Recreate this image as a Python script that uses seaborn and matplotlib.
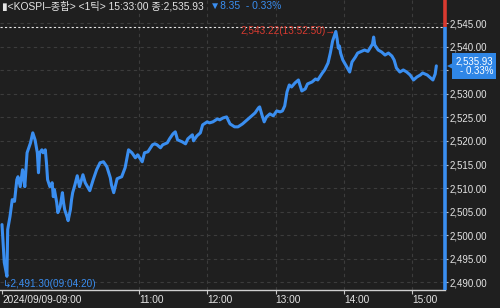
import numpy as np
import pandas as pd
import matplotlib
matplotlib.use("Agg")
import matplotlib.pyplot as plt
import matplotlib.transforms as mtransforms
import seaborn as sns

# ---------------- data ----------------
trade_date = "2024-09-09"
times = ["09:00", "09:02", "09:04:20", "09:05", "09:07", "09:09", "09:11", "09:13", "09:14", "09:16",
         "09:18", "09:19", "09:20", "09:22", "09:25", "09:27", "09:29", "09:31", "09:32", "09:33",
         "09:35", "09:36", "09:38", "09:39", "09:40", "09:42", "09:44", "09:45", "09:46", "09:48",
         "09:49", "09:51", "09:53", "09:54", "09:55", "09:57", "09:58", "10:00", "10:01", "10:02",
         "10:04", "10:06", "10:08", "10:11", "10:13", "10:17", "10:20", "10:23", "10:26", "10:29",
         "10:32", "10:35", "10:36", "10:38", "10:41", "10:45", "10:48", "10:51", "10:54", "10:57",
         "10:59", "11:03", "11:05", "11:08", "11:12", "11:14", "11:16", "11:19", "11:21", "11:25",
         "11:27", "11:30", "11:32", "11:34", "11:38", "11:41", "11:43", "11:47", "11:48", "11:51",
         "11:54", "11:56", "12:00", "12:02", "12:05", "12:09", "12:11", "12:14", "12:17", "12:20",
         "12:24", "12:27", "12:31", "12:33", "12:38", "12:42", "12:45", "12:46", "12:48", "12:50",
         "12:52", "12:55", "12:58", "13:01", "13:04", "13:06", "13:08", "13:10", "13:12", "13:14",
         "13:17", "13:20", "13:23", "13:26", "13:28", "13:32", "13:35", "13:37", "13:41", "13:43",
         "13:46", "13:48", "13:50", "13:52:50", "13:54", "13:55", "13:56", "13:57", "13:59", "14:03",
         "14:05", "14:07", "14:10", "14:12", "14:16", "14:18", "14:21", "14:25", "14:26", "14:27",
         "14:30", "14:33", "14:36", "14:39", "14:42", "14:44", "14:46", "14:49", "14:52", "14:55",
         "14:58", "15:01", "15:04", "15:07", "15:09", "15:13", "15:15", "15:18", "15:20", "15:21"]
values = [2502.27, 2494.23, 2491.30, 2501.21, 2503.96, 2507.56, 2507.20, 2511.79, 2512.42, 2510.31,
          2513.90, 2512.42, 2510.31, 2517.50, 2519.61, 2521.73, 2520.25, 2517.50, 2513.27, 2517.50,
          2518.13, 2517.50, 2518.13, 2515.38, 2511.79, 2510.31, 2511.15, 2508.19, 2509.67, 2506.92,
          2504.81, 2506.07, 2509.04, 2506.92, 2505.44, 2503.96, 2503.11, 2505.44, 2507.56, 2509.04,
          2510.73, 2512.63, 2510.31, 2512.84, 2511.15, 2509.46, 2511.79, 2513.90, 2515.38, 2515.59,
          2514.54, 2512.21, 2510.73, 2509.04, 2512.00, 2512.42, 2514.33, 2518.13, 2517.50, 2516.44,
          2517.07, 2515.59, 2517.50, 2517.71, 2519.19, 2519.40, 2519.19, 2518.56, 2519.19, 2519.61,
          2520.46, 2521.52, 2521.94, 2520.25, 2519.83, 2519.40, 2520.46, 2521.31, 2520.04, 2521.09,
          2521.73, 2523.42, 2524.06, 2523.84, 2524.06, 2524.69, 2524.48, 2524.90, 2525.11, 2523.63,
          2523.00, 2523.00, 2523.63, 2524.06, 2525.11, 2525.96, 2527.02, 2527.23, 2525.54, 2524.06,
          2525.11, 2525.75, 2525.33, 2526.38, 2526.17, 2526.38, 2527.44, 2530.40, 2531.88, 2531.46,
          2532.31, 2532.94, 2530.61, 2531.04, 2532.10, 2532.52, 2533.15, 2532.94, 2534.42, 2535.06,
          2536.54, 2538.65, 2541.19, 2543.22, 2541.62, 2539.71, 2540.13, 2538.65, 2537.17, 2535.48,
          2534.63, 2536.75, 2537.81, 2538.65, 2539.08, 2539.29, 2539.00, 2540.56, 2542.04, 2540.35,
          2539.29, 2538.87, 2538.23, 2538.65, 2538.02, 2537.17, 2535.48, 2534.63, 2535.06, 2534.63,
          2534.00, 2532.94, 2533.58, 2534.00, 2534.42, 2534.00, 2533.58, 2532.94, 2534.21, 2535.93]

prev_close = 2544.28
close_value = 2535.93
change = -8.35
change_pct = -0.33
high_time, high_value = "13:52:50", 2543.22
low_time, low_value = "09:04:20", 2491.30
header_name = "<KOSPI–종합> <1틱> 15:33:00 종:"
ytick_values = [2490, 2495, 2500, 2505, 2510, 2515, 2520, 2525, 2530, 2535, 2540, 2545]
hidden_ytick = 2535  # covered by the last-price box in the reference
xtick_times = ["09:00", "11:00", "12:00", "13:00", "14:00", "15:00"]
xtick_labels = ["2024/09/09-09:00", "11:00", "12:00", "13:00", "14:00", "15:00"]
x_range = ["08:58:15", "15:28:36"]
y_range = [2488.4, 2549.9]

# ---------------- style ----------------
bg = "#1f1f1f"
blue = "#3a8ef0"
box_blue = "#2f86e6"
red = "#d93a30"
grid_c = "#3c3c3c"
txt_c = "#e4e4e4"
fam = ["Liberation Sans", "Noto Sans CJK KR", "DejaVu Sans"]

sns.set_theme(style="dark", rc={"axes.facecolor": bg, "figure.facecolor": bg})
plt.rcParams["font.family"] = fam

def to_dt(t):
    return pd.to_datetime(f"{trade_date} {t}")

df = pd.DataFrame({"time": [to_dt(t) for t in times], "value": values})

fig = plt.figure(figsize=(5.0, 3.08), dpi=100, facecolor=bg)
ax = fig.add_axes([0, 18 / 308, 445 / 500, 290 / 308])
ax.set_facecolor(bg)

sns.lineplot(data=df, x="time", y="value", ax=ax, color=blue, linewidth=2.2, zorder=4)

ax.set_xlim(to_dt(x_range[0]), to_dt(x_range[1]))
ax.set_ylim(*y_range)
ax.set_xlabel("")
ax.set_ylabel("")

# y axis on the right
ax.yaxis.tick_right()
ax.set_yticks(ytick_values)
ax.set_yticklabels(["" if v == hidden_ytick else f"{v:,.2f}" for v in ytick_values])
ax.tick_params(axis="y", which="both", right=True, left=False, length=2, width=0.8,
               color="#bdbdbd", labelcolor=txt_c, labelsize=7, pad=1.5)

# x axis
ax.set_xticks([to_dt(t) for t in xtick_times])
ax.set_xticklabels(xtick_labels, ha="left")
ax.tick_params(axis="x", bottom=True, length=3, width=0.8, color="#c8c8c8",
               labelcolor=txt_c, labelsize=7.3, pad=0.5)
for lab in ax.get_xticklabels():
    lab.set_horizontalalignment("left")

# grids
ax.grid(True, axis="both", color=grid_c, linestyle=(0, (3, 3)), linewidth=0.8)
ax.get_xgridlines()[0].set_visible(False)
ax.set_axisbelow(True)

for s in ["left", "top", "right"]:
    ax.spines[s].set_visible(False)
ax.spines["bottom"].set_color("#cfcfcf")
ax.spines["bottom"].set_linewidth(1.0)

# previous close dashed line
ax.axhline(prev_close, color="#e6e6e6", linestyle=(0, (2, 2)), linewidth=0.8, zorder=3)

# right-edge range bar: red above previous close, blue below
btr = mtransforms.blended_transform_factory(ax.transAxes, ax.transData)
ax.plot([1.0, 1.0], [prev_close, y_range[1]], color=red, lw=2.6, transform=btr,
        clip_on=False, solid_capstyle="butt", zorder=5)
ax.plot([1.0, 1.0], [y_range[0], prev_close], color=blue, lw=2.6, transform=btr,
        clip_on=False, solid_capstyle="butt", zorder=5)

# high / low annotations
ax.annotate(f"{high_value:,.2f}({high_time})→", xy=(to_dt(high_time), high_value),
            ha="right", va="center", color=red, fontsize=7.2, zorder=6)
ax.annotate(f"↳{low_value:,.2f}({low_time})", xy=(to_dt(low_time), low_value),
            xytext=(-3.0, -5.6), textcoords="offset points",
            ha="left", va="center", color=blue, fontsize=7.2, zorder=6)

# last-price box on the right
ftr = mtransforms.blended_transform_factory(fig.transFigure, ax.transData)
fig.text(0.986, close_value,
         f"{close_value:,.2f}\n{'-' if change < 0 else '+'} {abs(change_pct):.2f}%",
         transform=ftr, ha="right", va="center", color="white", fontsize=7,
         linespacing=0.95, multialignment="right",
         bbox=dict(boxstyle="square,pad=0.3", facecolor=box_blue, edgecolor="none"))
ax.plot([1.0 + 6 / 445], [close_value], marker="<", ms=6, color=box_blue,
        markeredgewidth=0, transform=btr, clip_on=False, zorder=7)

# header
fig.text(0.004, 0.981, "▮" + header_name + f"{close_value:,.2f}", color=txt_c,
         fontsize=7.4, va="center", ha="left", family=fam)
fig.text(210 / 500, 0.981, f"▼{abs(change):.2f}  - {abs(change_pct):.2f}%", color=blue,
         fontsize=7.4, va="center", ha="left", family=fam)

fig.savefig("out.png", dpi=100, facecolor=bg)
